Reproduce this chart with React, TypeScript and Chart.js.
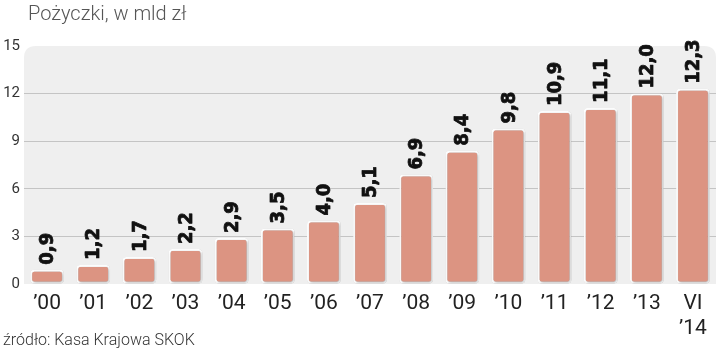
import React, { useEffect, useRef } from "react";
import { Chart, registerables } from "chart.js";

Chart.register(...registerables);

const categories: (string | string[])[] = ["’00", "’01", "’02", "’03", "’04", "’05", "’06", "’07", "’08", "’09", "’10", "’11", "’12", "’13", ["VI", "’14"]];
const loans = [0.9, 1.2, 1.7, 2.2, 2.9, 3.5, 4.0, 5.1, 6.9, 8.4, 9.8, 10.9, 11.1, 12.0, 12.3];
const yTicks = [0, 3, 6, 9, 12, 15];
const title = "Pożyczki, w mld zł";
const source = "źródło: Kasa Krajowa SKOK";

const fmt = (v: number) => v.toFixed(1).replace(".", ",");

function roundRect(ctx: CanvasRenderingContext2D, x: number, y: number, w: number, h: number, r: number) {
  ctx.beginPath();
  ctx.moveTo(x + r, y);
  ctx.lineTo(x + w - r, y);
  ctx.quadraticCurveTo(x + w, y, x + w, y + r);
  ctx.lineTo(x + w, y + h);
  ctx.lineTo(x, y + h);
  ctx.lineTo(x, y + r);
  ctx.quadraticCurveTo(x, y, x + r, y);
  ctx.closePath();
}

const bgPlugin = {
  id: "bgArea",
  beforeDraw(chart: any) {
    const { ctx, chartArea } = chart;
    ctx.save();
    roundRect(ctx, chartArea.left, chartArea.top, chartArea.right - chartArea.left, chartArea.bottom - chartArea.top, 12);
    ctx.fillStyle = "#efefef";
    ctx.fill();
    ctx.restore();
  },
  beforeDatasetsDraw(chart: any) {
    const ctx = chart.ctx;
    ctx.save();
    ctx.shadowColor = "rgba(0,0,0,0.3)";
    ctx.shadowBlur = 3;
    ctx.shadowOffsetX = 1;
    ctx.shadowOffsetY = 1;
  },
  afterDatasetsDraw(chart: any) {
    const ctx = chart.ctx;
    ctx.restore();
    const meta = chart.getDatasetMeta(0);
    ctx.save();
    ctx.fillStyle = "#111111";
    ctx.strokeStyle = "#111111";
    ctx.lineWidth = 0.8;
    ctx.lineJoin = "round";
    ctx.font = "bold 20px 'DejaVu Sans Condensed', 'DejaVu Sans'";
    ctx.textAlign = "left";
    ctx.textBaseline = "middle";
    meta.data.forEach((bar: any, i: number) => {
      ctx.save();
      ctx.translate(bar.x + 1, bar.y - 5);
      ctx.rotate(-Math.PI / 2);
      ctx.fillText(fmt(loans[i]), 0, 0);
      ctx.strokeText(fmt(loans[i]), 0, 0);
      ctx.restore();
    });
    ctx.restore();
  },
};

export default function App() {
  const ref = useRef<HTMLCanvasElement>(null);
  useEffect(() => {
    document.body.style.margin = "0";
    const chart = new Chart(ref.current!, {
      type: "bar",
      data: {
        labels: categories,
        datasets: [
          {
            data: loans,
            backgroundColor: "#dc9482",
            borderColor: "#ffffff",
            borderWidth: 2,
            borderRadius: 4,
            borderSkipped: false,
            barPercentage: 0.73,
            categoryPercentage: 1,
          },
        ],
      },
      options: {
        animation: false,
        responsive: false,
        maintainAspectRatio: false,
        layout: { padding: { top: 46, right: 4, left: 0, bottom: 0 } },
        plugins: { legend: { display: false }, tooltip: { enabled: false }, title: { display: false } },
        scales: {
          x: {
            grid: { display: false, drawTicks: false },
            border: { display: false },
            ticks: { color: "#222", font: { size: 21, family: "Roboto" }, padding: 7, maxRotation: 0, autoSkip: false },
            afterFit: (s: any) => { s.height = 67; },
          },
          y: {
            min: 0,
            max: 15,
            afterBuildTicks: (s: any) => { s.ticks = yTicks.map((v) => ({ value: v })); },
            grid: {
              drawTicks: false,
              color: (c: any) => (c.tick && (c.tick.value === 0 || c.tick.value === 15) ? "rgba(0,0,0,0)" : "#c4c4c4"),
            },
            border: { display: false },
            ticks: { color: "#333", font: { size: 15, family: "Roboto" }, padding: 4 },
            afterFit: (s: any) => { s.width = 24; },
          },
        },
      },
      plugins: [bgPlugin],
    });
    return () => chart.destroy();
  }, []);
  return (
    <div style={{ position: "relative", width: 720, height: 351, background: "#fff", fontFamily: "Roboto" }}>
      <canvas ref={ref} width={720} height={351} style={{ position: "absolute", left: 0, top: 0 }} />
      <div style={{ position: "absolute", left: 28, top: 0, fontSize: 20, fontWeight: 300, color: "#555", lineHeight: "26px" }}>{title}</div>
      <div style={{ position: "absolute", left: 3, top: 329, fontSize: 16, fontWeight: 300, color: "#333", lineHeight: "22px" }}>{source}</div>
    </div>
  );
}
